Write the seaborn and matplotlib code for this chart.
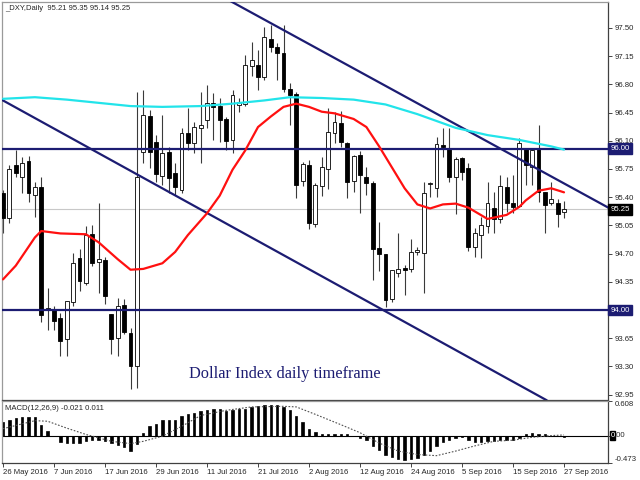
import numpy as np
import pandas as pd
import seaborn as sns
import matplotlib
matplotlib.use('Agg')
import matplotlib.pyplot as plt
import matplotlib.transforms as mtransforms

# -------- data: _DXY daily, 26 May 2016 .. 27 Sep 2016 --------
opens = [95.45, 95.14, 95.80, 95.65, 95.85, 95.43, 95.53, 94.00, 94.01, 93.90,
         93.64, 94.10, 94.65, 94.34, 94.94, 94.60, 94.62, 93.95, 93.65, 94.06,
         93.71, 93.30, 95.96, 96.41, 96.08, 95.66, 95.96, 95.70, 95.49, 96.20,
         96.07, 96.26, 96.36, 96.57, 96.53, 96.37, 96.11, 96.54, 96.56, 97.03,
         97.04, 96.89, 97.36, 97.26, 97.19, 96.74, 96.68, 95.60, 95.80, 95.07,
         95.54, 95.75, 96.20, 96.32, 96.07, 95.60, 95.92, 95.65, 95.58, 94.77,
         94.70, 94.14, 94.46, 94.52, 94.51, 94.72, 94.71, 95.56, 95.51, 96.05,
         96.01, 95.65, 95.89, 95.76, 94.78, 94.93, 95.04, 95.27, 95.13, 95.53,
         95.33, 95.29, 96.00, 95.77, 96.00, 95.46, 95.33, 95.33, 95.21]
highs = [95.49, 95.80, 95.99, 95.90, 95.91, 95.59, 95.65, 94.27, 94.05, 93.96,
         94.11, 94.71, 94.76, 95.04, 95.05, 95.33, 94.66, 93.95, 94.15, 94.14,
         93.78, 96.70, 96.73, 96.48, 96.17, 96.42, 96.02, 95.82, 96.26, 96.51,
         96.33, 96.70, 96.79, 96.69, 96.63, 96.40, 96.73, 96.63, 97.16, 97.33,
         97.23, 97.51, 97.53, 97.31, 97.54, 96.82, 96.70, 95.84, 95.86, 95.58,
         95.90, 96.51, 96.46, 96.47, 96.08, 95.92, 95.97, 95.77, 95.60, 95.09,
         94.70, 94.50, 94.96, 94.56, 94.88, 94.78, 95.59, 95.59, 96.15, 96.26,
         96.26, 95.90, 95.90, 95.82, 95.02, 95.16, 95.59, 95.46, 95.68, 95.65,
         95.67, 96.13, 96.01, 96.00, 96.30, 95.47, 95.59, 95.38, 95.35]
lows = [94.96, 95.08, 95.65, 95.45, 95.34, 95.15, 93.85, 93.75, 93.75, 93.43,
        93.43, 94.05, 94.24, 94.31, 94.55, 94.21, 94.07, 93.45, 93.43, 93.70,
        93.02, 93.03, 95.82, 95.76, 95.59, 95.55, 95.45, 95.43, 95.45, 95.99,
        95.95, 95.82, 96.26, 96.11, 96.08, 95.99, 95.95, 96.46, 96.53, 96.90,
        96.73, 96.85, 97.20, 96.85, 96.70, 96.30, 95.39, 95.54, 95.00, 95.03,
        95.41, 95.50, 96.07, 96.02, 95.39, 95.46, 95.20, 95.43, 94.37, 94.48,
        94.04, 94.10, 94.41, 94.19, 94.47, 94.68, 94.21, 95.40, 95.40, 95.90,
        95.59, 95.19, 95.61, 94.73, 94.66, 94.65, 94.96, 94.96, 95.08, 95.22,
        95.20, 95.28, 95.55, 95.55, 95.34, 94.96, 95.30, 95.03, 95.14]
closes = [95.14, 95.75, 95.70, 95.82, 95.45, 95.53, 93.94, 94.03, 93.87, 93.62,
          94.11, 94.58, 94.36, 94.93, 94.58, 94.63, 94.17, 93.64, 94.05, 93.73,
          93.30, 95.65, 96.42, 95.96, 95.69, 95.95, 95.64, 95.53, 96.20, 96.07,
          96.27, 96.30, 96.57, 96.52, 96.36, 96.10, 96.67, 96.58, 97.04, 97.10,
          96.89, 97.39, 97.26, 97.19, 96.74, 96.67, 95.55, 95.81, 95.08, 95.55,
          95.77, 96.21, 96.33, 96.08, 95.59, 95.91, 95.67, 95.58, 94.76, 94.70,
          94.12, 94.50, 94.51, 94.50, 94.72, 94.74, 95.45, 95.58, 96.06, 96.02,
          95.65, 95.87, 95.71, 94.78, 94.96, 95.06, 95.33, 95.13, 95.54, 95.33,
          95.28, 96.07, 95.80, 95.99, 95.46, 95.30, 95.38, 95.19, 95.25]

date_pos = [0, 8, 16, 24, 32, 40, 48, 56, 64, 72, 80, 88]
date_labels = ['26 May 2016', '7 Jun 2016', '17 Jun 2016', '29 Jun 2016',
               '11 Jul 2016', '21 Jul 2016', '2 Aug 2016', '12 Aug 2016',
               '24 Aug 2016', '5 Sep 2016', '15 Sep 2016', '27 Sep 2016']

# moving averages (bar index, price)
red_idx = [0, 2, 5, 6, 9, 13, 15, 18, 20, 22, 25, 27, 29, 32, 34, 36, 38, 40, 42,
           44, 46, 48, 50, 52, 55, 57, 59, 61, 63, 65, 67, 69, 71, 73, 76, 79,
           81, 82, 84, 86, 88]
red_val = [94.38, 94.55, 94.90, 94.98, 94.95, 94.94, 94.84, 94.63, 94.50, 94.51,
           94.58, 94.72, 94.93, 95.20, 95.42, 95.74, 95.98, 96.27, 96.40, 96.52,
           96.56, 96.52, 96.46, 96.44, 96.37, 96.27, 96.03, 95.77, 95.51, 95.31,
           95.26, 95.31, 95.32, 95.27, 95.13, 95.18, 95.28, 95.36, 95.48, 95.51,
           95.46]
cyan_idx = [0, 5, 10, 15, 20, 25, 31, 36, 41, 45, 50, 55, 60, 65, 71, 76, 81, 86, 88]
cyan_val = [96.62, 96.64, 96.61, 96.57, 96.53, 96.52, 96.53, 96.56, 96.60, 96.64,
            96.63, 96.61, 96.55, 96.43, 96.26, 96.17, 96.11, 96.03, 95.99]

# trend lines and levels
upper_x = [35.5, 94.95]
upper_y = [97.84, 95.27]
lower_x = [-0.47, 85.3]
lower_y = [96.62, 92.88]
levels = [96.00, 94.00]
last_price = 95.25
price_ticks = [92.95, 93.30, 93.65, 94.35, 94.70, 95.05, 95.40, 95.75,
               96.10, 96.45, 96.80, 97.15, 97.50]

# MACD(12,26,9)
macd_hist = [0.24, 0.28, 0.31, 0.33, 0.32, 0.32, 0.18, 0.08, -0.01, -0.12,
             -0.13, -0.13, -0.13, -0.10, -0.07, -0.07, -0.10, -0.13, -0.16, -0.20,
             -0.27, -0.14, 0.05, 0.16, 0.20, 0.27, 0.28, 0.28, 0.34, 0.37,
             0.39, 0.42, 0.44, 0.47, 0.46, 0.43, 0.44, 0.46, 0.47, 0.50,
             0.51, 0.53, 0.54, 0.54, 0.50, 0.44, 0.34, 0.23, 0.12, 0.06,
             0.03, 0.03, 0.035, 0.03, 0.02, -0.005, -0.04, -0.08, -0.18, -0.25,
             -0.33, -0.37, -0.41, -0.42, -0.41, -0.39, -0.33, -0.27, -0.19, -0.11,
             -0.07, -0.04, -0.02, -0.08, -0.11, -0.11, -0.10, -0.10, -0.08, -0.08,
             -0.07, -0.04, 0.02, 0.05, 0.035, 0.02, 0.0, -0.01, -0.021]
signal_idx = [0, 5, 7, 10, 13, 17, 20, 22, 25, 28, 31, 35, 39, 44, 46, 49, 53, 56,
              59, 62, 65, 68, 71, 74, 77, 80, 83, 86, 88]
signal_val = [0.12, 0.26, 0.25, 0.13, 0.02, -0.10, -0.14, -0.10, -0.01, 0.16,
              0.35, 0.44, 0.50, 0.51, 0.50, 0.37, 0.19, 0.05, -0.13, -0.27,
              -0.33, -0.35, -0.27, -0.18, -0.10, -0.08, -0.03, 0.0, 0.011]

navy = '#1c1c72'

sns.set_style('white')
plt.rcParams['font.family'] = ['Liberation Sans', 'DejaVu Sans']

fig = plt.figure(figsize=(6.4, 4.8), dpi=100)
ax = fig.add_axes([0.0031, 0.1677, 0.9469, 0.8288])
axm = fig.add_axes([0.0031, 0.0360, 0.9469, 0.1292], sharex=ax)

ohlc = pd.DataFrame({'open': opens, 'high': highs, 'low': lows, 'close': closes})
ohlc['i'] = np.arange(len(ohlc))
up = ohlc[ohlc.close >= ohlc.open]
dn = ohlc[ohlc.close < ohlc.open]

# candles
ax.vlines(ohlc.i, ohlc.low, ohlc.high, color='#3a3a3a', lw=0.8, zorder=2)
ax.bar(up.i, up.close - up.open, bottom=up.open, width=0.6,
       color='white', edgecolor='black', lw=0.6, zorder=3)
ax.bar(dn.i, dn.open - dn.close, bottom=dn.close, width=0.6,
       color='black', edgecolor='black', lw=0.6, zorder=3)

ax.axhline(last_price, color='#c8c8c8', lw=0.8, zorder=1)
for lv in levels:
    ax.axhline(lv, color=navy, lw=1.6, zorder=4)
sns.lineplot(x=upper_x, y=upper_y, ax=ax, color=navy, lw=1.6, zorder=4)
sns.lineplot(x=lower_x, y=lower_y, ax=ax, color=navy, lw=1.6, zorder=4)
sns.lineplot(x=cyan_idx, y=cyan_val, ax=ax, color='#22e4ea', lw=1.6, zorder=5)
sns.lineplot(x=red_idx, y=red_val, ax=ax, color='#ff1010', lw=1.6, zorder=5)

ax.set_xlim(-0.16, 94.9)
ax.set_ylim(92.890, 97.825)
ax.yaxis.tick_right()
ax.set_yticks(price_ticks)
ax.set_yticklabels([f'{v:.2f}' for v in price_ticks])
ax.tick_params(axis='y', right=True, length=3, width=0.6, pad=2, labelsize=5.6)
ax.tick_params(axis='x', bottom=False, labelbottom=False)
for s in ['left', 'top']:
    ax.spines[s].set_color('#9a9a9a')
for s in ['right', 'bottom']:
    ax.spines[s].set_color('#404040')
for s in ax.spines.values():
    s.set_linewidth(0.9)

ytr = mtransforms.blended_transform_factory(ax.transAxes, ax.transData)
for lv in levels:
    ax.text(1.004, lv, f'{lv:.2f}', transform=ytr, fontsize=5.6, color='white',
            va='center', ha='left',
            bbox=dict(boxstyle='square,pad=0.25', fc=navy, ec=navy))
ax.text(1.004, last_price, f'{last_price:.2f}', transform=ytr, fontsize=5.6,
        color='white', va='center', ha='left',
        bbox=dict(boxstyle='square,pad=0.25', fc='black', ec='black'))

ax.text(0.005, 0.984, '_DXY,Daily  95.21 95.35 95.14 95.25', transform=ax.transAxes,
        fontsize=5.5, va='center', ha='left')
ax.text(0.309, 0.055, 'Dollar Index daily timeframe', transform=ax.transAxes,
        family=['Liberation Serif'], fontsize=11.8, color=navy, va='baseline')

# MACD panel
axm.bar(np.arange(len(macd_hist)), macd_hist, width=0.36, color='black',
        edgecolor='black', lw=0.5)
axm.axhline(0, color='black', lw=0.8)
sns.lineplot(x=signal_idx, y=signal_val, ax=axm, color='#505050', lw=0.8,
             linestyle=(0, (1.5, 1.5)))
axm.set_ylim(-0.473, 0.608)
axm.yaxis.tick_right()
axm.set_yticks([0.608, 0.0, -0.473])
axm.set_yticklabels(['0.608', '', '-0.473'])
axm.tick_params(axis='y', right=True, length=3, width=0.6, pad=2, labelsize=5.6)
ylabels = axm.get_yticklabels()
ylabels[0].set_va('top')
ylabels[2].set_va('bottom')
mtr = mtransforms.blended_transform_factory(axm.transAxes, axm.transData)
axm.text(1.004, 0.0, '0', transform=mtr, fontsize=5.6, color='white', va='center',
         bbox=dict(boxstyle='square,pad=0.1', fc='black', ec='black'))
axm.text(1.0112, 0.0, '.00', transform=mtr, fontsize=5.6, va='center')
axm.text(0.005, 0.88, 'MACD(12,26,9) -0.021 0.011', transform=axm.transAxes,
         fontsize=5.6, va='center', ha='left')

axm.set_xticks(date_pos)
axm.set_xticklabels(date_labels)
for lbl in axm.get_xticklabels():
    lbl.set_ha('left')
axm.tick_params(axis='x', bottom=True, length=3, width=0.6, pad=1.5, labelsize=5.6)
for s in ['left', 'top']:
    axm.spines[s].set_color('#9a9a9a')
for s in ['right', 'bottom']:
    axm.spines[s].set_color('#404040')
for s in axm.spines.values():
    s.set_linewidth(0.9)
axm.set_xlabel('')
ax.set_xlabel('')
ax.set_ylabel('')
axm.set_ylabel('')

fig.savefig('out.png', dpi=100)
